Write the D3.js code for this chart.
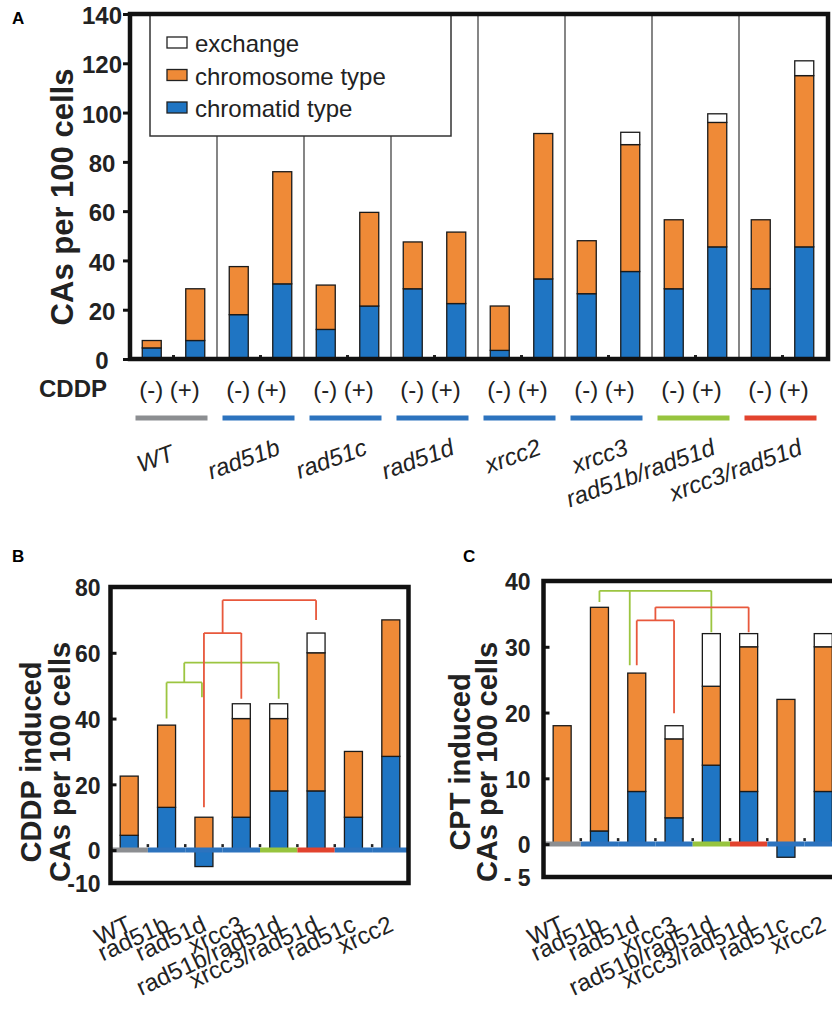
<!DOCTYPE html>
<html>
<head>
<meta charset="utf-8">
<script src="https://cdn.jsdelivr.net/npm/d3@7"></script>
<style>
  body { margin: 0; background: #fff; }
  svg { display: block; font-family: "Liberation Sans", Arial, Helvetica, sans-serif; }
</style>
</head>
<body>
<svg id="fig" width="832" height="1019"></svg>
<script>
// ---------- data ----------
// panel A : CAs per 100 cells, without / with CDDP
const genesA = ['WT', 'rad51b', 'rad51c', 'rad51d', 'xrcc2', 'xrcc3', 'rad51b/rad51d', 'xrcc3/rad51d'];
const treatments = ['(-)', '(+)'];
const chromatidMinus  = [4.5, 18, 12, 28.5, 3.5, 26.5, 28.5, 28.5];
const chromosomeMinus = [3, 19.5, 18, 19, 18, 21.5, 28, 28];
const exchangeMinus   = [0, 0, 0, 0, 0, 0, 0, 0];
const chromatidPlus   = [7.5, 30.5, 21.5, 22.5, 32.5, 35.5, 45.5, 45.5];
const chromosomePlus  = [21, 45.5, 38, 29, 59, 51.5, 50.5, 69.5];
const exchangePlus    = [0, 0, 0, 0, 0, 5, 3.5, 6];
const ticksA = [0, 20, 40, 60, 80, 100, 120, 140];
const legendLabels = ['exchange', 'chromosome type', 'chromatid type'];

// panels B and C : induced CAs (treated minus untreated)
const genesBC = ['WT', 'rad51b', 'rad51d', 'xrcc3', 'rad51b/rad51d', 'xrcc3/rad51d', 'rad51c', 'xrcc2'];
const cddpChromatid  = [4.5, 13, -5, 10, 18, 18, 10, 28.5];
const cddpChromosome = [18, 25, 10, 30, 22, 42, 20, 41.5];
const cddpExchange   = [0, 0, 0, 4.5, 4.5, 6, 0, 0];
const ticksB = [-10, 0, 20, 40, 60, 80];

const cptChromatid  = [0, 2, 8, 4, 12, 8, -2, 8];
const cptChromosome = [18, 34, 18, 12, 12, 22, 22, 22];
const cptExchange   = [0, 0, 0, 2, 8, 2, 0, 2];
const ticksC = [-5, 0, 10, 20, 30, 40];
const tickLabelsC = ['- 5', '0', '10', '20', '30', '40'];

// brackets : legs = [gene or bracket id, value where the leg stops], level = value of the bar
const bracketsB = [
  { id: 'g1', legs: [['rad51b', 40], ['rad51d', 46.5]], level: 51 },
  { id: 'g2', legs: [['g1', 51], ['rad51b/rad51d', 46]], level: 57 },
  { id: 'r1', legs: [['rad51d', 13], ['xrcc3', 46]], level: 66 },
  { id: 'r2', legs: [['r1', 66], ['xrcc3/rad51d', 70]], level: 76 }
];
const bracketsC = [
  { id: 'g1', legs: [['rad51b', 36.8], ['rad51d', 27.2], ['rad51b/rad51d', 32.2]], level: 38.5 },
  { id: 'r1', legs: [['rad51d', 27.2], ['xrcc3', 19.9]], level: 34 },
  { id: 'r2', legs: [['r1', 34], ['xrcc3/rad51d', 32.2]], level: 36 }
];

// ---------- style ----------
const keys = ['chromatid', 'chromosome', 'exchange'];
const fills = { chromatid: '#1f75c3', chromosome: '#ef8a37', exchange: '#ffffff' };
const geneColor = g => g === 'WT' ? '#8c8e91'
  : g === 'rad51b/rad51d' ? '#97c43e'
  : g === 'xrcc3/rad51d' ? '#e2432e' : '#2c73be';
const bracketColor = id => id[0] === 'g' ? '#9cc540' : '#e8583c';

const svg = d3.select('#fig');
svg.append('rect').attr('width', 832).attr('height', 1019).attr('fill', '#fff');

const stack = d3.stack().keys(keys).offset(d3.stackOffsetDiverging);

function styleAxis(g, size) {
  g.select('.domain').remove();
  g.selectAll('.tick line').attr('stroke', '#111').attr('stroke-width', 3);
  g.selectAll('.tick text')
    .attr('fill', '#222')
    .style('font-size', size + 'px')
    .style('font-weight', 'bold');
}

function drawStack(g, series, xPos, y, w) {
  series.forEach(s => {
    g.append('g').selectAll('rect')
      .data(s.filter(d => d[1] - d[0] !== 0))
      .join('rect')
      .attr('x', d => xPos(d.data) - w / 2)
      .attr('y', d => y(Math.max(d[0], d[1])))
      .attr('width', w)
      .attr('height', d => Math.abs(y(d[0]) - y(d[1])))
      .attr('fill', fills[s.key])
      .attr('stroke', '#1a1a1a')
      .attr('stroke-width', 1.3);
  });
}

// ---------- panel A ----------
const yA = d3.scaleLinear().domain([0, 140]).range([359, 14]);
const xA = d3.scaleBand().domain(genesA).range([130, 826]);
const xSub = d3.scaleBand().domain(treatments).range([0, xA.bandwidth()]);
const centerA = g => xA(g) + xA.bandwidth() / 2;

const rowsA = [];
genesA.forEach((g, i) => {
  rowsA.push({ gene: g, t: '(-)', chromatid: chromatidMinus[i], chromosome: chromosomeMinus[i], exchange: exchangeMinus[i] });
  rowsA.push({ gene: g, t: '(+)', chromatid: chromatidPlus[i], chromosome: chromosomePlus[i], exchange: exchangePlus[i] });
});

const gA = svg.append('g');

// separators between genotypes
gA.append('g').selectAll('line')
  .data(genesA.slice(1))
  .join('line')
  .attr('x1', d => xA(d)).attr('x2', d => xA(d))
  .attr('y1', yA(140)).attr('y2', yA(0))
  .attr('stroke', '#444').attr('stroke-width', 1.3);

drawStack(gA, stack(rowsA), d => xA(d.gene) + xSub(d.t) + xSub.bandwidth() / 2, yA, 19);

// small marks on the zero line
gA.append('g').selectAll('line')
  .data(genesA)
  .join('line')
  .attr('x1', d => centerA(d) - 1.5).attr('x2', d => centerA(d) + 1.5)
  .attr('y1', yA(0) - 3).attr('y2', yA(0) - 3)
  .attr('stroke', '#222').attr('stroke-width', 2);

// legend
const leg = gA.append('g');
leg.append('rect')
  .attr('x', 150).attr('y', yA(140)).attr('width', 301).attr('height', 122)
  .attr('fill', '#fff').attr('stroke', '#333').attr('stroke-width', 1.5);
legendLabels.forEach((lab, i) => {
  const key = keys[2 - i];
  const by = 52 + i * 32.5;
  leg.append('rect')
    .attr('x', 167).attr('y', by - 15).attr('width', 20).attr('height', 11)
    .attr('fill', fills[key]).attr('stroke', '#222').attr('stroke-width', 1.3);
  leg.append('text')
    .attr('x', 195).attr('y', by)
    .style('font-size', '24px').attr('fill', '#222')
    .text(lab);
});

// frame + axis
gA.append('rect')
  .attr('x', 130).attr('y', yA(140)).attr('width', 698).attr('height', yA(0) - yA(140))
  .attr('fill', 'none').attr('stroke', '#111').attr('stroke-width', 4.5);

gA.append('g')
  .attr('transform', 'translate(130,0)')
  .call(d3.axisLeft(yA).tickValues(ticksA).tickSize(7).tickPadding(4))
  .call(g => styleAxis(g, 24))
  .call(g => g.selectAll('.tick text').attr('text-anchor', 'middle').attr('x', -28).attr('dy', '0.4em'));

gA.append('text')
  .attr('transform', 'translate(73,197) rotate(-90)')
  .attr('text-anchor', 'middle')
  .style('font-size', '31px').style('font-weight', 'bold').attr('fill', '#222')
  .text('CAs per 100 cells');

gA.append('text').attr('x', 12).attr('y', 24)
  .style('font-size', '17px').style('font-weight', 'bold').text('A');

// treatment row, colour bars, genotype names
gA.append('text').attr('x', 107).attr('y', 397).attr('text-anchor', 'end')
  .style('font-size', '24px').style('font-weight', 'bold').attr('fill', '#222').text('CDDP');

gA.append('g').selectAll('text')
  .data(genesA)
  .join('text')
  .attr('x', d => centerA(d) - 4).attr('y', 398)
  .attr('text-anchor', 'middle')
  .style('font-size', '24px').attr('fill', '#222')
  .text(treatments.join(' '));

gA.append('g').selectAll('line')
  .data(genesA)
  .join('line')
  .attr('x1', d => centerA(d) - 38).attr('x2', d => centerA(d) + 34)
  .attr('y1', 418).attr('y2', 418)
  .attr('stroke', geneColor).attr('stroke-width', 5);

gA.append('g').selectAll('text')
  .data(genesA)
  .join('text')
  .attr('transform', d => `translate(${centerA(d) + (d === 'WT' ? 2 : 21)},${d === 'WT' ? 460 : 454}) rotate(-20)`)
  .attr('text-anchor', 'end')
  .style('font-size', '24px').style('font-style', 'italic').attr('fill', '#222')
  .text(d => d);

// ---------- panels B and C ----------
function inducedPanel(opt) {
  const g = svg.append('g');
  const y = d3.scaleLinear().domain(opt.domain).range([opt.bottom, opt.top]);
  const x = d3.scaleBand().domain(genesBC).range([opt.left, opt.left + opt.step * genesBC.length]);
  const cx = d => x(d) + x.bandwidth() / 2;

  const rows = genesBC.map((gene, i) => ({
    gene, chromatid: opt.chromatid[i], chromosome: opt.chromosome[i], exchange: opt.exchange[i]
  }));
  drawStack(g, stack(rows), d => cx(d.gene), y, 18);

  // coloured zero line
  g.append('g').selectAll('line')
    .data(genesBC)
    .join('line')
    .attr('x1', d => x(d)).attr('x2', d => x(d) + x.bandwidth())
    .attr('y1', y(0)).attr('y2', y(0))
    .attr('stroke', geneColor).attr('stroke-width', 5);

  g.append('g').selectAll('line')
    .data(genesBC.slice(1))
    .join('line')
    .attr('x1', d => x(d)).attr('x2', d => x(d))
    .attr('y1', y(0) - 6).attr('y2', y(0) - 3)
    .attr('stroke', '#222').attr('stroke-width', 2.5);

  // brackets
  const mids = {};
  opt.brackets.forEach(b => {
    const xs = b.legs.map(([k]) => {
      if (mids[k] !== undefined) return mids[k];
      const shift = (b.id[0] === 'g' && k === 'rad51d') ? opt.shift : 0;
      return cx(k) + shift;
    });
    mids[b.id] = (d3.min(xs) + d3.max(xs)) / 2;
    const p = d3.path();
    p.moveTo(d3.min(xs), y(b.level));
    p.lineTo(d3.max(xs), y(b.level));
    b.legs.forEach(([k, v], i) => {
      p.moveTo(xs[i], y(b.level));
      p.lineTo(xs[i], y(v));
    });
    g.append('path').attr('d', p.toString())
      .attr('fill', 'none').attr('stroke', bracketColor(b.id)).attr('stroke-width', 1.8);
  });

  // frame + axis
  g.append('rect')
    .attr('x', opt.left).attr('y', opt.top).attr('width', opt.frameWidth).attr('height', opt.bottom - opt.top)
    .attr('fill', 'none').attr('stroke', '#111').attr('stroke-width', 4.5);

  g.append('g')
    .attr('transform', `translate(${opt.left},0)`)
    .call(d3.axisLeft(y).tickValues(opt.ticks).tickFormat((d, i) => opt.tickLabels[i])
      .tickSizeInner(-6).tickSizeOuter(0).tickPadding(opt.pad))
    .call(a => styleAxis(a, 23))
    .call(a => a.selectAll('.tick text').attr('dy', '0.38em'));

  opt.title.forEach((t, i) => {
    g.append('text')
      .attr('transform', `translate(${opt.titleX[i]},762) rotate(-90)`)
      .attr('text-anchor', 'middle')
      .style('font-size', '29px').style('font-weight', 'bold').attr('fill', '#222')
      .text(t);
  });

  g.append('g').selectAll('text')
    .data(genesBC)
    .join('text')
    .attr('transform', d => `translate(${cx(d) + 4},930) rotate(-25)`)
    .attr('text-anchor', 'end')
    .style('font-size', '24px').attr('fill', '#222')
    .text(d => d);

  g.append('text').attr('x', opt.letterX).attr('y', 562)
    .style('font-size', '17px').style('font-weight', 'bold').text(opt.letter);
}

inducedPanel({
  letter: 'B', letterX: 12,
  domain: [-10, 80], top: 587, bottom: 883, left: 110.5, step: 37.375, frameWidth: 298,
  chromatid: cddpChromatid, chromosome: cddpChromosome, exchange: cddpExchange,
  ticks: ticksB, tickLabels: ticksB.map(String), pad: 10,
  brackets: bracketsB, shift: -2,
  title: ['CDDP induced', 'CAs per 100 cells'], titleX: [41, 70]
});

inducedPanel({
  letter: 'C', letterX: 463,
  domain: [-5, 40], top: 581, bottom: 877, left: 543.5, step: 37.3, frameWidth: 340,
  chromatid: cptChromatid, chromosome: cptChromosome, exchange: cptExchange,
  ticks: ticksC, tickLabels: tickLabelsC, pad: 13,
  brackets: bracketsC, shift: -7,
  title: ['CPT induced', 'CAs per 100 cells'], titleX: [470, 497]
});
</script>
</body>
</html>
